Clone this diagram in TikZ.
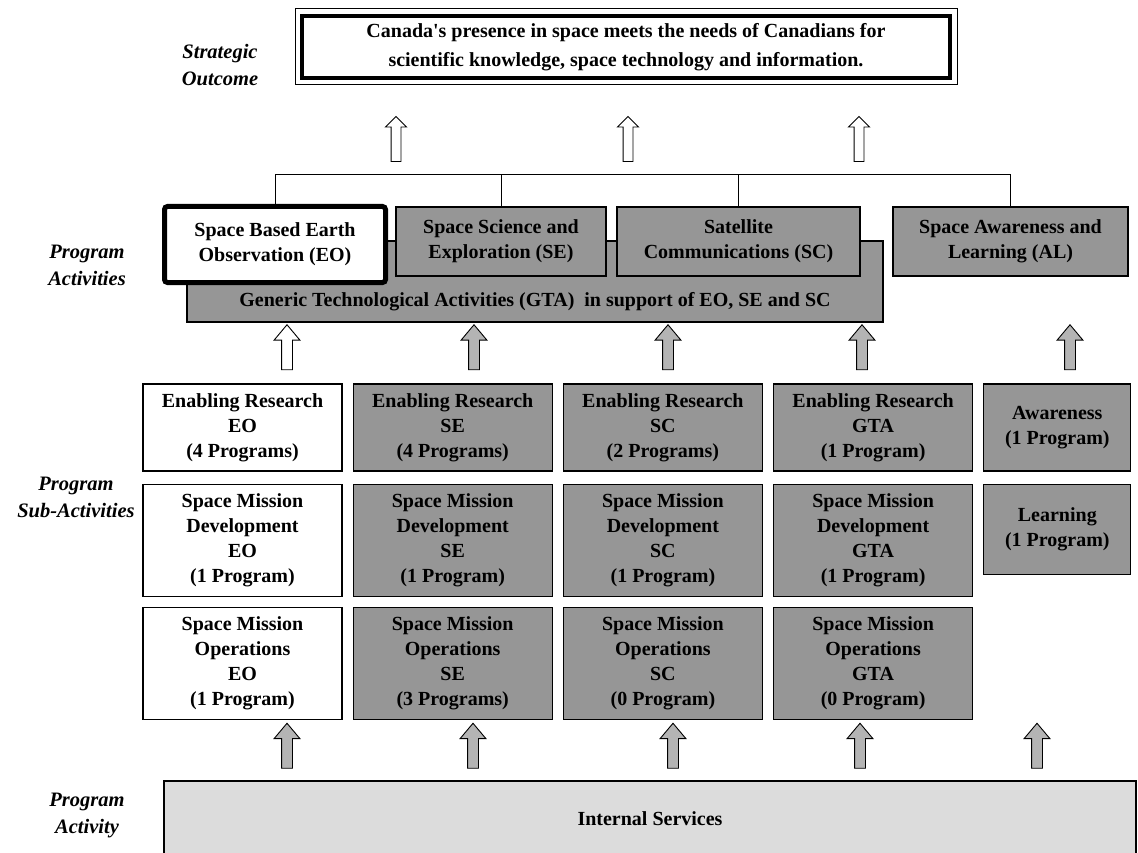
\documentclass[tikz,border=0pt]{standalone}
\usepackage{fontspec}
\setmainfont{Liberation Serif}[Ligatures=TeXOff]
\usetikzlibrary{positioning,shapes.arrows}

\definecolor{boxgray}{RGB}{150,150,150}
\definecolor{arrowgray}{RGB}{180,180,180}
\definecolor{servgray}{RGB}{220,220,220}

\begin{document}
\begin{tikzpicture}[x=1pt, y=-1pt,
  every node/.style={font=\fontsize{20}{25}\selectfont\bfseries, align=center},
  pa/.style={draw, line width=1.2pt, fill=boxgray, minimum height=69pt, inner sep=2pt},
  sub/.style={draw, line width=1.2pt, fill=boxgray, minimum width=199pt, inner sep=2pt},
  tag/.style={font=\fontsize{20.5}{27}\selectfont\bfseries\itshape},
  up/.style={single arrow, draw, line width=0.9pt, fill=arrowgray, shape border rotate=90,
             minimum height=45pt, inner sep=5pt, single arrow head extend=7.5pt,
             single arrow tip angle=80},
  uptop/.style={up, fill=white, inner sep=4.5pt, single arrow head extend=5.5pt,
                single arrow tip angle=90}]
\useasboundingbox (0,0) rectangle (1138,853);

% strategic outcome
\node[draw, line width=4pt, minimum width=648pt, minimum height=62pt,
      font=\fontsize{20}{29}\selectfont\bfseries] (goal) at (626,47)
  {Canada's presence in space meets the needs of Canadians for\\scientific knowledge, space technology and information.};
\draw[line width=1pt] ([shift={(-5,-5)}]goal.north west) rectangle ([shift={(5,5)}]goal.south east);

% row labels
\node[tag] (so-tag) at (220,65) {Strategic\\Outcome};
\node[tag] (pa-tag) at (87,265) {Program\\Activities};
\node[tag] (psa-tag) at (76,497) {Program\\Sub-Activities};
\node[tag] (pact-tag) at (87,815) {Program\\Activity};

\foreach \x [count=\i] in {396,628,859}
  \node[uptop] (goal-up\i) at (\x,141.5) {};

% program activities
\node[pa, minimum width=696pt, minimum height=81pt, text height=49pt, text depth=0pt] (gta) at (535,281.5)
  {Generic Technological Activities (GTA)\ \ in support of EO, SE and SC};
\node[pa, fill=white, line width=5pt, rounded corners=3pt, minimum width=221pt, minimum height=76pt] (eo) at (275,244.5)
  {Space Based Earth\\Observation (EO)};
\node[pa, minimum width=210pt] (se) at (501,241.5) {Space Science and\\Exploration (SE)};
\node[pa, minimum width=243pt] (sc) at (738.5,241.5) {Satellite\\Communications (SC)};
\node[pa, minimum width=235pt] (al) at (1010.5,241.5) {Space Awareness and\\Learning (AL)};

\coordinate (bus) at (0,174);
\draw[line width=0.9pt] (eo.north) |- (bus -| al.north) -- (al.north);
\draw[line width=0.9pt] (se.north) -- (se.north |- bus);
\draw[line width=0.9pt] (sc.north) -- (sc.north |- bus);

\node[up, fill=white] (eo-up) at (287,350.5) {};
\foreach \x/\n in {474/se,668/sc,862/gta,1070/al}
  \node[up] (\n-up) at (\x,350.5) {};

% sub-activities
\node[sub, fill=white, minimum height=87pt] (er-eo) at (242.5,427.5) {Enabling Research\\EO\\(4 Programs)};
\node[sub, minimum height=87pt, right=10pt of er-eo] (er-se) {Enabling Research\\SE\\(4 Programs)};
\node[sub, minimum height=87pt, right=10pt of er-se] (er-sc) {Enabling Research\\SC\\(2 Programs)};
\node[sub, minimum height=87pt, right=10pt of er-sc] (er-gta) {Enabling Research\\GTA\\(1 Program)};
\node[sub, minimum height=87pt, minimum width=147pt, right=10pt of er-gta] (aw) {Awareness\\(1 Program)};

\node[sub, fill=white, minimum height=112pt, below=12pt of er-eo] (dev-eo) {Space Mission\\Development\\EO\\(1 Program)};
\node[sub, minimum height=112pt, right=10pt of dev-eo] (dev-se) {Space Mission\\Development\\SE\\(1 Program)};
\node[sub, minimum height=112pt, right=10pt of dev-se] (dev-sc) {Space Mission\\Development\\SC\\(1 Program)};
\node[sub, minimum height=112pt, right=10pt of dev-sc] (dev-gta) {Space Mission\\Development\\GTA\\(1 Program)};
\node[sub, minimum height=90pt, minimum width=147pt, below=12pt of aw] (learn) {Learning\\(1 Program)};

\node[sub, fill=white, minimum height=112pt, below=10pt of dev-eo] (ops-eo) {Space Mission\\Operations\\EO\\(1 Program)};
\node[sub, minimum height=112pt, right=10pt of ops-eo] (ops-se) {Space Mission\\Operations\\SE\\(3 Programs)};
\node[sub, minimum height=112pt, right=10pt of ops-se] (ops-sc) {Space Mission\\Operations\\SC\\(0 Program)};
\node[sub, minimum height=112pt, right=10pt of ops-sc] (ops-gta) {Space Mission\\Operations\\GTA\\(0 Program)};

\foreach \x/\n in {287/eo,473/se,673/sc,860/gta,1037/al}
  \node[up] (is-up-\n) at (\x,749) {};

% internal services
\node[draw, line width=1.2pt, fill=servgray, minimum width=972pt, minimum height=76pt] (is) at (650,819) {Internal Services};
\end{tikzpicture}
\end{document}
